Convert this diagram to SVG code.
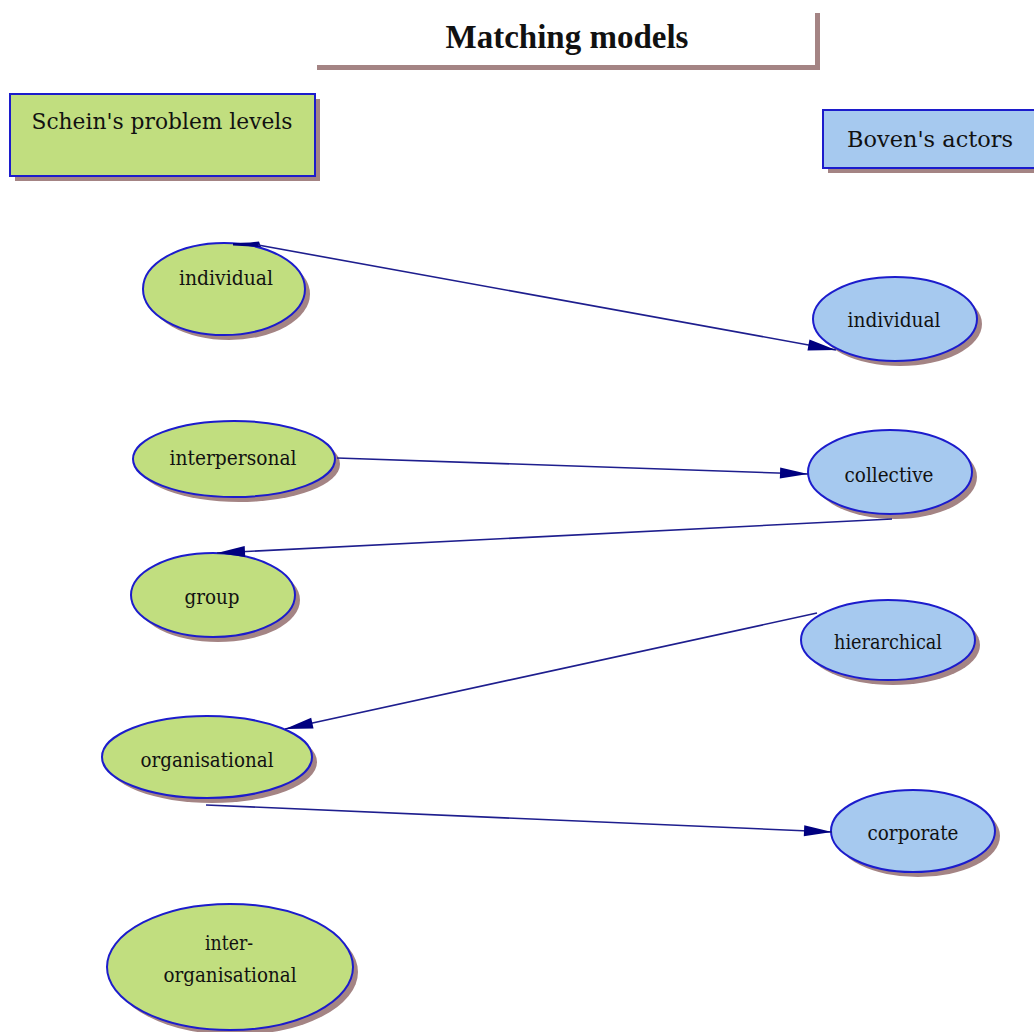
<svg xmlns="http://www.w3.org/2000/svg" width="1034" height="1032" viewBox="0 0 1034 1032">
  <style>
    .shadow { fill: #a48484; }
    .green { fill: #c1de7f; stroke: #1c1ccc; stroke-width: 2; }
    .blue { fill: #a6c9ef; stroke: #1c1ccc; stroke-width: 2; }
    .lbl { font-family: "DejaVu Serif", "Liberation Serif", serif; font-size: 20px; fill: #111; text-anchor: middle; }
    .head { font-family: "DejaVu Serif", "Liberation Serif", serif; font-size: 23px; fill: #111; text-anchor: middle; }
    .title { font-family: "Liberation Serif", "Times New Roman", serif; font-size: 33px; font-weight: bold; fill: #111; text-anchor: middle; }
    .edge { stroke: #1e1e8e; stroke-width: 1.6; fill: none; marker-end: url(#arrow); }
  </style>
  <defs>
    <marker id="arrow" markerUnits="userSpaceOnUse" markerWidth="30" markerHeight="14" refX="28" refY="6" orient="auto" overflow="visible">
      <path d="M0,0.5 L28,6 L0,11.5 z" fill="#000080"/>
    </marker>
  </defs>

  <rect width="1034" height="1032" fill="#ffffff"/>

  <!-- title banner -->
  <g id="title">
    <rect class="shadow" x="317" y="13" width="503" height="57"/>
    <rect x="312" y="8" width="503" height="57" fill="#ffffff"/>
    <text class="title" x="567" y="48">Matching models</text>
  </g>

  <!-- column headers -->
  <g id="schein-header">
    <rect class="shadow" x="15" y="99" width="305" height="82"/>
    <rect class="green" x="10" y="94" width="305" height="82"/>
    <text class="head" x="162" y="129" textLength="261" lengthAdjust="spacingAndGlyphs">Schein's problem levels</text>
  </g>
  <g id="boven-header">
    <rect class="shadow" x="828" y="115" width="230" height="58"/>
    <rect class="blue" x="823" y="110" width="230" height="58"/>
    <text class="head" x="930" y="147" textLength="166" lengthAdjust="spacingAndGlyphs">Boven's actors</text>
  </g>

  <!-- Schein's levels -->
  <g id="s-individual">
    <ellipse class="shadow" cx="229" cy="294" rx="81" ry="46"/>
    <ellipse class="green" cx="224" cy="289" rx="81" ry="46"/>
    <text class="lbl" x="226" y="285" textLength="94" lengthAdjust="spacingAndGlyphs">individual</text>
  </g>
  <g id="s-interpersonal">
    <ellipse class="shadow" cx="239" cy="464" rx="101" ry="38"/>
    <ellipse class="green" cx="234" cy="459" rx="101" ry="38"/>
    <text class="lbl" x="233" y="465" textLength="127" lengthAdjust="spacingAndGlyphs">interpersonal</text>
  </g>
  <g id="s-group">
    <ellipse class="shadow" cx="218" cy="600" rx="82" ry="42"/>
    <ellipse class="green" cx="213" cy="595" rx="82" ry="42"/>
    <text class="lbl" x="212" y="604" textLength="55" lengthAdjust="spacingAndGlyphs">group</text>
  </g>
  <g id="s-organisational">
    <ellipse class="shadow" cx="212" cy="762" rx="105" ry="41"/>
    <ellipse class="green" cx="207" cy="757" rx="105" ry="41"/>
    <text class="lbl" x="207" y="767" textLength="133" lengthAdjust="spacingAndGlyphs">organisational</text>
  </g>
  <g id="s-interorganisational">
    <ellipse class="shadow" cx="235" cy="972" rx="123" ry="63"/>
    <ellipse class="green" cx="230" cy="967" rx="123" ry="63"/>
    <text class="lbl" x="229" y="950" textLength="48" lengthAdjust="spacingAndGlyphs">inter-</text>
    <text class="lbl" x="230" y="982" textLength="133" lengthAdjust="spacingAndGlyphs">organisational</text>
  </g>

  <!-- Boven's actors -->
  <g id="b-individual">
    <ellipse class="shadow" cx="900" cy="324" rx="82" ry="42"/>
    <ellipse class="blue" cx="895" cy="319" rx="82" ry="42"/>
    <text class="lbl" x="894" y="327" textLength="93" lengthAdjust="spacingAndGlyphs">individual</text>
  </g>
  <g id="b-collective">
    <ellipse class="shadow" cx="895" cy="477" rx="82" ry="42"/>
    <ellipse class="blue" cx="890" cy="472" rx="82" ry="42"/>
    <text class="lbl" x="889" y="482" textLength="89" lengthAdjust="spacingAndGlyphs">collective</text>
  </g>
  <g id="b-hierarchical">
    <ellipse class="shadow" cx="893" cy="645" rx="87" ry="40"/>
    <ellipse class="blue" cx="888" cy="640" rx="87" ry="40"/>
    <text class="lbl" x="888" y="649" textLength="108" lengthAdjust="spacingAndGlyphs">hierarchical</text>
  </g>
  <g id="b-corporate">
    <ellipse class="shadow" cx="918" cy="836" rx="82" ry="41"/>
    <ellipse class="blue" cx="913" cy="831" rx="82" ry="41"/>
    <text class="lbl" x="913" y="840" textLength="91" lengthAdjust="spacingAndGlyphs">corporate</text>
  </g>

  <!-- links between the two models -->
  <g id="connectors">
    <polygon points="233,243 250,242.5 259,241.5 261,247 233,245.5" fill="#000080"/>
    <line class="edge" x1="258" y1="245" x2="836" y2="350"/>
    <line class="edge" x1="337" y1="458" x2="808" y2="474"/>
    <line class="edge" x1="892" y1="519" x2="217" y2="553"/>
    <line class="edge" x1="817" y1="613" x2="285" y2="729"/>
    <line class="edge" x1="206" y1="805" x2="832" y2="832"/>
  </g>
</svg>
